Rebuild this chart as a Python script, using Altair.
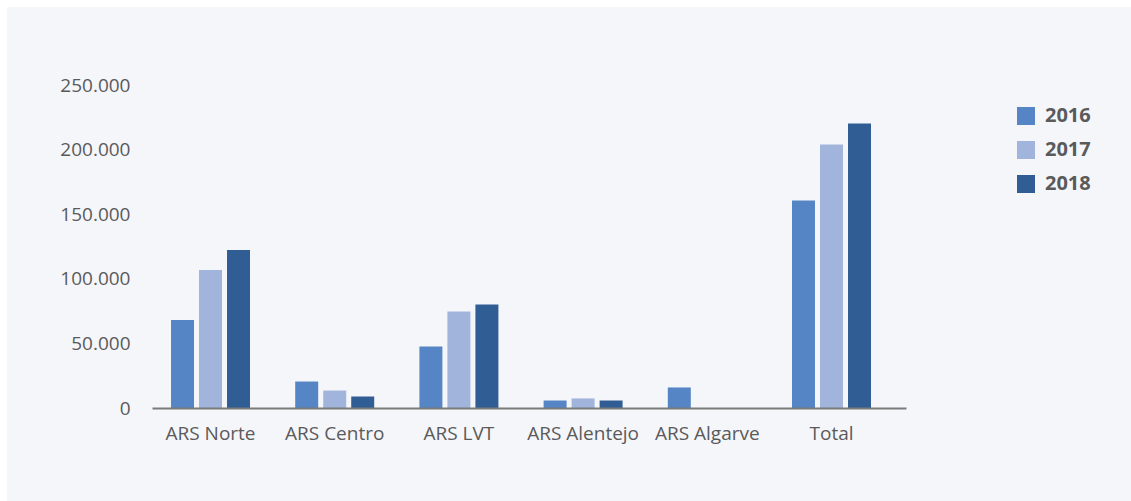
import altair as alt
import pandas as pd

categories = ["ARS Norte", "ARS Centro", "ARS LVT", "ARS Alentejo", "ARS Algarve", "Total"]
years = ["2016", "2017", "2018"]
v2016 = [68100, 20500, 47600, 5800, 15900, 160600]
v2017 = [106800, 13500, 74700, 7400, None, 204000]
v2018 = [122300, 8900, 80100, 5800, None, 220200]
y_ticks = [0, 50000, 100000, 150000, 200000, 250000]
colors = ["#5585c4", "#a1b4db", "#305d93"]

rows = []
for yr, vals in zip(years, [v2016, v2017, v2018]):
    for c, v in zip(categories, vals):
        if v is not None:
            rows.append({"cat": c, "year": yr, "value": v})
df = pd.DataFrame(rows)

FONT = "Open Sans"
TXT = "#5a5a5a"

one = pd.DataFrame({"a": [0]})
top_strip = alt.Chart(one).mark_rect(color="white").encode(
    x=alt.value(-160), x2=alt.value(1000), y=alt.value(-90), y2=alt.value(-78)
)
left_strip = alt.Chart(one).mark_rect(color="white").encode(
    x=alt.value(-160), x2=alt.value(-145), y=alt.value(-90), y2=alt.value(440)
)

bars = alt.Chart(df).mark_bar().encode(
    x=alt.X("cat:N", sort=categories,
            scale=alt.Scale(paddingInner=0.364, paddingOuter=0.2175, align=0.352),
            axis=alt.Axis(title=None, labelAngle=0, ticks=False, domain=True,
                          domainColor="#7a7a7a", domainWidth=2, zindex=1,
                          labelFont=FONT, labelFontSize=19, labelColor=TXT,
                          labelPadding=16)),
    xOffset=alt.XOffset("year:N", sort=years,
                        scale=alt.Scale(paddingInner=0.179, paddingOuter=0)),
    y=alt.Y("value:Q", scale=alt.Scale(domain=[0, 250000], nice=False),
            axis=alt.Axis(title=None, values=y_ticks, format=",.0f", ticks=False,
                          domain=False, grid=False, labelFont=FONT, labelFontSize=19,
                          labelColor=TXT, labelPadding=22, zindex=1,
                          labelExpr="replace(datum.label, ',', '.')")),
    color=alt.Color("year:N", sort=years,
                    scale=alt.Scale(domain=years, range=colors),
                    legend=alt.Legend(title=None, orient="none", legendX=864, legendY=21,
                                      symbolType="square", symbolSize=324,
                                      symbolStrokeWidth=0, symbolOpacity=1,
                                      labelFont=FONT, labelFontSize=20, labelFontWeight="bold",
                                      labelColor=TXT, labelOffset=9, rowPadding=14,
                                      padding=0)),
)

chart = alt.layer(top_strip, left_strip, bars).properties(
    width=754, height=323,
    autosize=alt.AutoSizeParams(type="none"),
    padding={"left": 152, "top": 85, "right": 225, "bottom": 93},
    background="#f5f6fa",
).configure_view(stroke=None)

chart.save("out.html", embed_options={"renderer": "svg", "actions": False})
